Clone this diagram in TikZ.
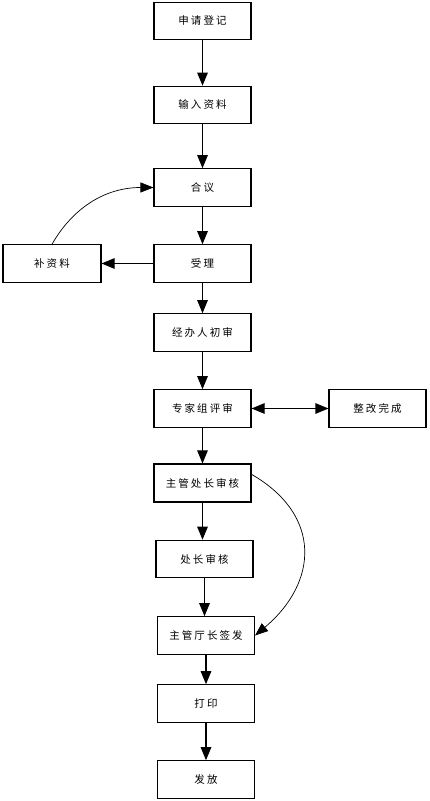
\documentclass[tikz,border=0pt]{standalone}
\usepackage{fontspec}
\usepackage{tikz}
\usetikzlibrary{arrows.meta}
\newfontfamily\cjk[LetterSpace=20]{Noto Sans CJK SC}

\tikzset{
	box/.style={shape=rectangle,draw=black,line width=1.1pt,minimum width=97pt,minimum height=37.5pt,inner sep=0pt,font=\cjk\fontsize{10.5pt}{12pt}\selectfont},
	arr/.style={-{Triangle[length=13pt,width=10.5pt]},line width=1.1pt},
	bow/.style={-{Triangle[length=13pt,width=10pt]},line width=0.7pt}
}

\begin{document}
\begin{tikzpicture}[x=1pt,y=1pt]
	
	\useasboundingbox (0, 0) rectangle (429, 801);
	
	\node[box] (sqdj) at (202.5, 780)   {申请登记};
	\node[box] (srzl) at (202.5, 696)   {输入资料};
	\node[box] (hy)   at (202.5, 613.5) {合议};
	\node[box] (sl)   at (202.5, 537.5) {受理};
	\node[box,minimum width=98pt] (bzl) at (52, 537.5) {补资料};
	\node[box] (jbr)  at (202.5, 468.5) {经办人初审};
	\node[box] (zjz)  at (202.5, 392.5) {专家组评审};
	\node[box] (zgwc) at (377.5, 392.5) {整改完成};
	\node[box,minimum height=38pt] (zgcz) at (202.5, 318) {主管处长审核};
	\node[box] (czsh) at (204.5, 242)   {处长审核};
	\node[box] (zgtz) at (206, 165.5)   {主管厅长签发};
	\node[box] (dy)   at (206, 97.5)    {打印};
	\node[box] (ff)   at (206, 21.5)    {发放};
	
	\path[arr] (sqdj) edge (sqdj |- srzl.north);
	\path[arr] (srzl) edge (srzl |- hy.north);
	\path[arr] (hy) edge (hy |- sl.north);
	\path[arr] (sl) edge (sl |- jbr.north);
	\path[arr] (sl) edge (bzl);
	\path[arr] (jbr) edge (jbr |- zjz.north);
	\path[arr,{Triangle[length=13pt,width=10.5pt]}-{Triangle[length=13pt,width=10.5pt]}] (zjz) edge (zgwc);
	\path[arr] (zjz) edge (zjz |- zgcz.north);
	\path[arr] (zgcz) edge (zgcz |- czsh.north);
	\path[arr] (czsh) edge (czsh |- zgtz.north);
	\path[arr] (zgtz) edge (zgtz |- dy.north);
	\path[arr] (dy) edge (dy |- ff.north);
	
	\draw[bow] (bzl.north) to[out=60,in=180] (hy.west);
	\draw[bow] (zgcz.10) to[out=-30,in=40,looseness=1.3] (zgtz.east);
	
\end{tikzpicture}
\end{document}
